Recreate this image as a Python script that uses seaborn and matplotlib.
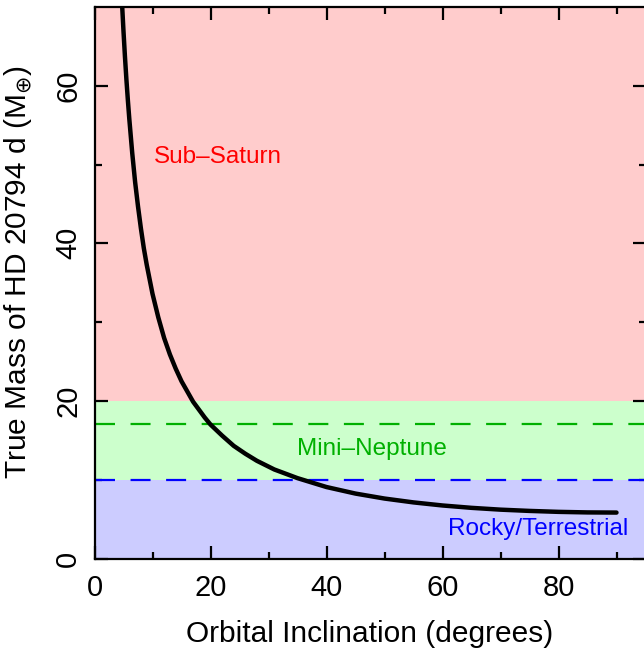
import matplotlib
matplotlib.use("Agg")
import matplotlib.pyplot as plt
import seaborn as sns
import pandas as pd

# values
inclination = [4.5, 4.8, 5.0, 5.25, 5.5, 5.75, 6.0, 6.5, 7.0, 7.5, 8.0, 8.5, 9.0, 10.0, 11.0,
               12.0, 13.0, 14.0, 15.0, 16.0, 17.0, 18.0, 19.0, 20.0, 22.0, 24.0, 26.0,
               28.0, 31.0, 35.0, 40.0, 45.0, 50.0, 55.0, 60.0, 65.0, 70.0, 75.0, 80.0,
               85.0, 90.0]
true_mass = [74.3, 69.7, 66.9, 63.7, 60.8, 58.2, 55.8, 51.5, 47.8, 44.7, 41.9, 39.4, 37.3,
             33.6, 30.6, 28.0, 25.9, 24.1, 22.5, 21.2, 19.9, 18.9, 17.9, 17.0, 15.6, 14.3,
             13.3, 12.4, 11.3, 10.2, 9.07, 8.24, 7.61, 7.12, 6.73, 6.43, 6.20, 6.04, 5.92,
             5.85, 5.83]

band_edges = [0, 10, 20, 70]
band_names = ["Rocky/Terrestrial", "Mini\u2013Neptune", "Sub\u2013Saturn"]
band_fill = ["#ccccff", "#ccffcc", "#ffcccc"]
band_text = ["#0000ff", "#00b000", "#ff0000"]
label_xy = [(76.5, 3.8), (47.8, 13.9), (21.3, 50.9)]
dashed_levels = [17.1, 10.0]
dashed_colors = ["#00b000", "#0000ff"]

df = pd.DataFrame({"incl": inclination, "mass": true_mass})

sns.set_style("ticks")
plt.rcParams['font.family'] = ['Liberation Sans', 'DejaVu Sans']
plt.rcParams['mathtext.fontset'] = 'dejavusans'

fig = plt.figure(figsize=(6.44, 6.56), dpi=100)
ax = fig.add_axes([94.5 / 644, 97.5 / 656, 551 / 644, 551.5 / 656])

for lo, hi, c in zip(band_edges[:-1], band_edges[1:], band_fill):
    ax.axhspan(lo, hi, color=c, lw=0, zorder=0)

for lev, c in zip(dashed_levels, dashed_colors):
    ax.axhline(lev, color=c, lw=1.6, dashes=(9, 7), zorder=1)

sns.lineplot(data=df, x="incl", y="mass", sort=False, color="black", lw=3.2,
             ax=ax, zorder=3, solid_capstyle="round")

for name, (tx, ty), c in zip(band_names, label_xy, band_text):
    ax.text(tx, ty, name, color=c, fontsize=17.5, ha="center", va="center", zorder=4)

ax.set_xlim(0, 95)
ax.set_ylim(0, 70)
ax.set_xticks([0, 20, 40, 60, 80])
ax.set_xticks([10, 30, 50, 70, 90], minor=True)
ax.set_yticks([0, 20, 40, 60])
ax.set_yticks([10, 30, 50], minor=True)
ax.tick_params(which="both", direction="in", top=True, right=True, width=1.6,
               colors="black", labelsize=21)
ax.tick_params(which="major", length=9.5)
ax.tick_params(which="minor", length=5)
ax.tick_params(axis="x", which="major", pad=11)
ax.tick_params(axis="y", which="major", pad=9)
plt.setp(ax.get_yticklabels(), rotation=90, va="center")
for s in ax.spines.values():
    s.set_linewidth(1.6)
    s.set_color("black")

ax.set_xlabel("Orbital Inclination (degrees)", fontsize=21.5, labelpad=13, color="black")
ax.set_ylabel(r"True Mass of HD 20794 d (M$_{\oplus}$)", fontsize=21.5, color="black")
ax.yaxis.set_label_coords(-0.11, 0.52)

fig.savefig("out.png", dpi=100)
